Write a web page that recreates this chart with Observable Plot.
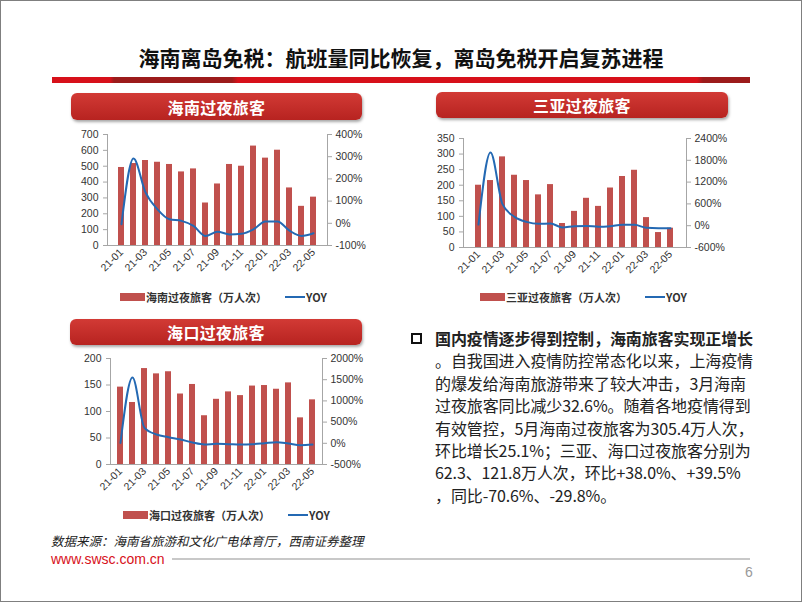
<!DOCTYPE html>
<html><head><meta charset="utf-8">
<script src="https://cdn.jsdelivr.net/npm/d3@7"></script>
<script src="https://cdn.jsdelivr.net/npm/@observablehq/plot@0.6"></script>
<style>
body{margin:0;background:#fff;}
#slide{position:relative;width:802px;height:602px;background:#fff;overflow:hidden;font-family:"Noto Sans CJK SC","Noto Sans",sans-serif;}
#border{position:absolute;left:0;top:0;width:800px;height:600px;border:1px solid #7f7f7f;pointer-events:none;z-index:10;}
.abs{position:absolute;}
.tbar{position:absolute;border-radius:6px;background:linear-gradient(#d23a35,#b72320);box-shadow:1px 2px 3px rgba(0,0,0,0.35);color:#fff;font-weight:bold;font-size:16px;display:flex;align-items:center;justify-content:center;letter-spacing:0.3px;}
.leg{position:absolute;display:flex;align-items:center;font-size:11px;font-weight:bold;color:#333;white-space:nowrap;}
.sw{display:inline-block;width:25px;height:8px;background:#C0504D;margin-right:1px;}
.ln{display:inline-block;width:20px;height:2px;background:#2469B3;margin-left:18px;margin-right:1px;}
.txt{position:absolute;left:435px;top:327px;font-size:16px;line-height:22.4px;color:#222;white-space:nowrap;letter-spacing:-0.1px;}
</style></head>
<body><div id="slide">
<div id="border"></div>
<div class="abs" style="left:0;width:802px;top:43px;text-align:center;font-size:21px;font-weight:bold;color:#111;line-height:28px;">海南离岛免税：航班量同比恢复，离岛免税开启复苏进程</div>
<div class="abs" style="left:52px;top:77px;width:698px;height:6px;background:linear-gradient(90deg,#d7101a 0px,#d7101a 58px,#9c1b1b 62px,#9c1b1b 180px,#d7101a 186px,#d7101a 645px,#9c1b1b 651px,#9c1b1b 698px);"></div>

<div class="tbar" style="left:71px;top:93px;width:291px;height:27px;">海南过夜旅客</div>
<div class="tbar" style="left:436px;top:92px;width:292px;height:26px;">三亚过夜旅客</div>
<div class="tbar" style="left:70px;top:319px;width:292px;height:26px;">海口过夜旅客</div>

<div class="leg" style="left:120px;top:289px;"><span class="sw"></span>海南过夜旅客（万人次）<span class="ln"></span>YOY</div>
<div class="leg" style="left:480px;top:289px;"><span class="sw"></span>三亚过夜旅客（万人次）<span class="ln"></span>YOY</div>
<div class="leg" style="left:123px;top:507px;"><span class="sw"></span>海口过夜旅客（万人次）<span class="ln"></span>YOY</div>

<div class="abs" style="left:411px;top:333px;width:7px;height:7px;border:2.5px solid #111;"></div>
<div class="txt"><b>国内疫情逐步得到控制，海南旅客实现正增长</b><br>。自我国进入疫情防控常态化以来，上海疫情<br>的爆发给海南旅游带来了较大冲击，3月海南<br>过夜旅客同比减少32.6%。随着各地疫情得到<br>有效管控，5月海南过夜旅客为305.4万人次，<br>环比增长25.1%；三亚、海口过夜旅客分别为<br>62.3、121.8万人次，环比+38.0%、+39.5%<br>，同比-70.6%、-29.8%。</div>

<div class="abs" style="left:51px;top:534px;font-size:12.5px;line-height:14px;font-style:italic;color:#222;white-space:nowrap;">数据来源：海南省旅游和文化广电体育厅，西南证券整理</div>
<div class="abs" style="left:51px;top:552px;font-family:'Liberation Sans',Arial,sans-serif;font-size:14px;line-height:14px;color:#d7101a;">www.swsc.com.cn</div>
<div class="abs" style="left:172px;top:558px;width:578px;height:2px;background:#c8c8c8;"></div>
<div class="abs" style="left:745px;top:564px;font-family:'Liberation Sans',Arial,sans-serif;font-size:14px;color:#999;">6</div>
</div>
<script>
const months = ["21-01","21-02","21-03","21-04","21-05","21-06","21-07","21-08","21-09","21-10","21-11","21-12","22-01","22-02","22-03","22-04","22-05"];
const xTickLabels = ["21-01","21-03","21-05","21-07","21-09","21-11","22-01","22-03","22-05"];

const hainanTourists = [492,517,536,525,511,464,483,268,388,511,500,627,551,601,363,247,305];
const hainanYoy = [-4,292,139,63,18,11,-12,-57,-38,-50,-47,-27,8,8,-33,-57,-45];

const sanyaTourists = [200,215,291,232,215,169,202,77,116,158,132,191,228,248,96,48,62];
const sanyaYoy = [30,2015,593,244,106,51,60,-50,-13,-5,-30,-13,24,24,-59,-70,-71];

const haikouTourists = [146,117,181,171,175,133,151,92,123,137,130,148,149,142,154,88,122];
const haikouYoy = [10,1552,365,208,145,90,19,-28,-13,-20,-28,-20,3,27,-5,-44,-30];

const hainanLeftTicks = [0,100,200,300,400,500,600,700];
const hainanRightTicks = [-100,0,100,200,300,400];
const sanyaLeftTicks = [0,50,100,150,200,250,300,350];
const sanyaRightTicks = [-600,0,600,1200,1800,2400];
const haikouLeftTicks = [0,50,100,150,200];
const haikouRightTicks = [-500,0,500,1000,1500,2000];

function chart(values, yoy, leftTicks, rightTicks, box, frame) {
  const leftDomain = [leftTicks[0], leftTicks[leftTicks.length-1]];
  const rightDomain = [rightTicks[0], rightTicks[rightTicks.length-1]];
  const yoyToLeft = d3.scaleLinear(rightDomain, leftDomain);
  const data = months.map((m,i) => ({month:m, value:values[i], yoy:yoy[i]}));
  const svg = Plot.plot({
    width: box.w, height: box.h,
    marginLeft: frame.x0 - box.l, marginRight: box.l + box.w - frame.x1,
    marginTop: frame.y0 - box.t, marginBottom: box.t + box.h - frame.y1,
    x: {type:"band", domain: months, padding: 0.48, label: null},
    y: {domain: leftDomain, label: null},
    style: {fontFamily: "'Liberation Sans', Arial, sans-serif", fontSize: "10.5px", color: "#333", background: "transparent", overflow: "visible"},
    marks: [
      Plot.barY(data, {x:"month", y:"value", fill:"#C0504D"}),
      Plot.ruleY([0], {stroke:"#a6a6a6"}),
      Plot.frame({anchor:"left", stroke:"#a6a6a6"}),
      Plot.frame({anchor:"right", stroke:"#a6a6a6"}),
      Plot.axisY(leftTicks, {anchor:"left", tickSize:4, tickPadding:5, stroke:"#a6a6a6", label:null}),
      Plot.axisY(rightTicks.map(yoyToLeft), {anchor:"right", tickSize:4, tickPadding:4, stroke:"#a6a6a6", label:null,
        tickFormat: v => Math.round(yoyToLeft.invert(v)) + "%"}),
      Plot.axisX(xTickLabels, {anchor:"bottom", tickRotate:-45, tickSize:0, tickPadding:5, label:null}),
      Plot.lineY(data, {x:"month", y: d => yoyToLeft(d.yoy), stroke:"#2469B3", strokeWidth:2, curve:"monotone-x"})
    ]
  });
  svg.style.position = "absolute";
  svg.style.left = box.l + "px";
  svg.style.top = box.t + "px";
  document.getElementById("slide").appendChild(svg);
}

chart(hainanTourists, hainanYoy, hainanLeftTicks, hainanRightTicks,
  {l:55, t:125, w:320, h:170}, {x0:107, x1:327, y0:134, y1:245});
chart(sanyaTourists, sanyaYoy, sanyaLeftTicks, sanyaRightTicks,
  {l:410, t:128, w:320, h:165}, {x0:463, x1:686, y0:138, y1:247});
chart(haikouTourists, haikouYoy, haikouLeftTicks, haikouRightTicks,
  {l:55, t:350, w:320, h:160}, {x0:110, x1:322, y0:358, y1:464});
</script>
</body></html>
